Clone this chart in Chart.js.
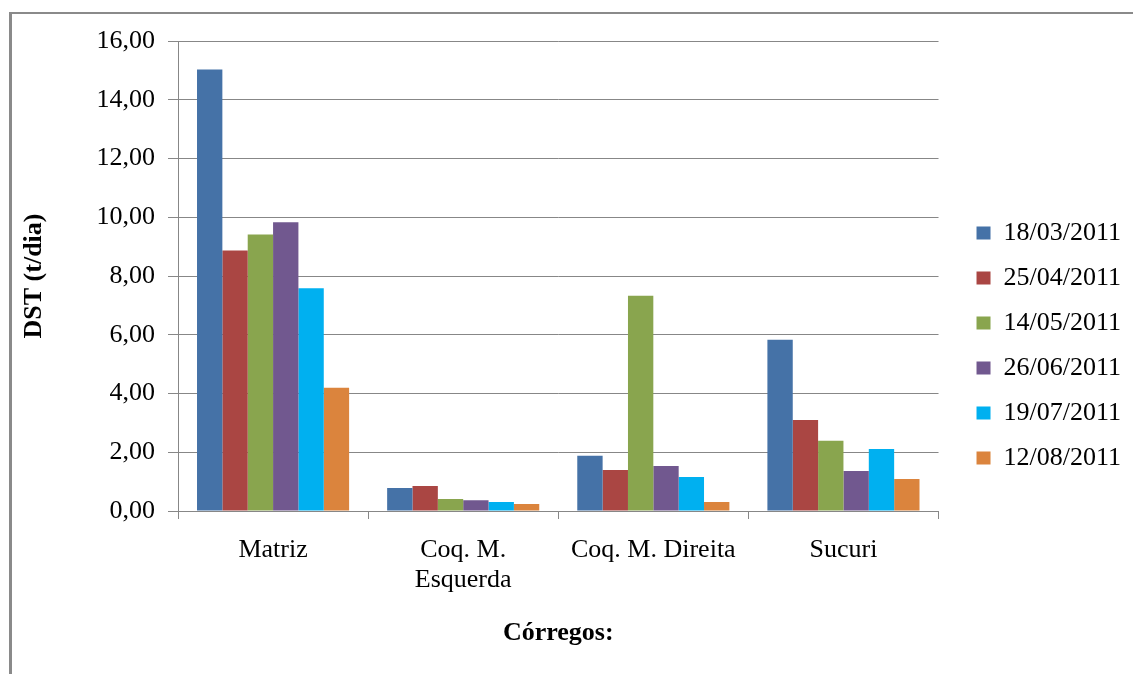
<!DOCTYPE html>
<html>
<head>
<meta charset="utf-8">
<script src="https://cdn.jsdelivr.net/npm/chart.js@4.4.1/dist/chart.umd.min.js"></script>
<style>
  body { margin: 0; background: #fff; }
  #wrap { position: relative; width: 1133px; height: 674px; overflow: hidden; }
  #frame { position: absolute; left: 9px; top: 12px; width: 1200px; height: 700px;
           border-left: 3px solid #8a8a8a; border-top: 2px solid #8a8a8a; }
  canvas { position: absolute; left: 0; top: 0; }
</style>
</head>
<body>
<div id="wrap">
  <div id="frame"></div>
  <canvas id="chart" width="1133" height="674"></canvas>
</div>
<script>
// Córregos (categories) and sampling dates (series).
const categories = ['Matriz', ['Coq. M.', 'Esquerda'], 'Coq. M. Direita', 'Sucuri'];
const dates = ['18/03/2011', '25/04/2011', '14/05/2011', '26/06/2011', '19/07/2011', '12/08/2011'];
const colours = ['#4572A7', '#AA4643', '#89A54E', '#71588F', '#00B0F0', '#DB843D'];

// DST (t/dia) per date, in category order.
const d18mar = [15.03, 0.78, 1.88, 5.83];
const d25abr = [8.87, 0.85, 1.40, 3.10];
const d14mai = [9.41, 0.41, 7.33, 2.39];
const d26jun = [9.83, 0.37, 1.53, 1.36];
const d19jul = [7.58, 0.31, 1.16, 2.11];
const d12ago = [4.20, 0.24, 0.31, 1.09];
const series = [d18mar, d25abr, d14mai, d26jun, d19jul, d12ago];

const yMin = 0, yMax = 16, yStep = 2;

const gridColour = '#878787';
const serif = 'Liberation Serif';

const ctx = document.getElementById('chart');
new Chart(ctx, {
  type: 'bar',
  data: {
    labels: categories,
    datasets: series.map((values, i) => ({
      label: dates[i],
      data: values,
      backgroundColor: colours[i],
      borderWidth: 0,
      barPercentage: 1.0,
      categoryPercentage: 0.8
    }))
  },
  options: {
    responsive: false,
    animation: false,
    devicePixelRatio: 1,
    layout: { padding: { left: 10, top: 41, right: 2, bottom: 24 } },
    plugins: {
      tooltip: { enabled: false },
      legend: {
        position: 'right',
        labels: {
          boxWidth: 14,
          boxHeight: 13,
          padding: 19,
          color: '#000',
          font: { family: serif, size: 26 }
        }
      }
    },
    scales: {
      x: {
        grid: { drawOnChartArea: false, drawTicks: true, tickLength: 8, color: gridColour },
        border: { color: gridColour },
        ticks: {
          padding: 16,
          color: '#000',
          maxRotation: 0,
          autoSkip: false,
          font: { family: serif, size: 26, lineHeight: 1.15 }
        },
        title: {
          display: true,
          text: 'Córregos:',
          color: '#000',
          padding: { top: 0, bottom: 1 },
          font: { family: serif, size: 26, weight: 'bold' }
        },
        afterFit: s => { s.height = 139; }
      },
      y: {
        min: yMin,
        max: yMax,
        grid: { color: gridColour, tickLength: 10 },
        border: { color: gridColour },
        ticks: {
          stepSize: yStep,
          padding: 13,
          color: '#000',
          font: { family: serif, size: 26 },
          callback: v => v.toFixed(2).replace('.', ',')
        },
        title: {
          display: true,
          text: 'DST (t/dia)',
          color: '#000',
          padding: { top: 9, bottom: 0 },
          font: { family: serif, size: 26, weight: 'bold' }
        },
        afterFit: s => { s.width = 168; }
      },
      // empty gap between plot area and legend
      gap: {
        type: 'linear',
        position: 'right',
        grid: { display: false },
        border: { display: false },
        ticks: { display: false },
        afterFit: s => { s.width = 19; }
      }
    }
  }
});
</script>
</body>
</html>
